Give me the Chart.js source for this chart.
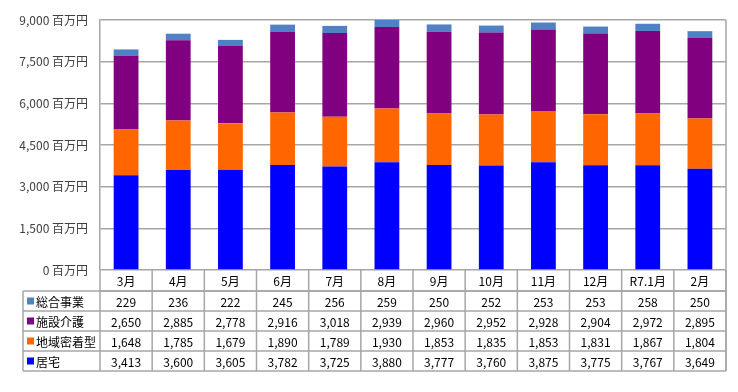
<!DOCTYPE html>
<html>
<head>
<meta charset="utf-8">
<script src="https://cdn.jsdelivr.net/npm/chart.js@4"></script>
<style>
  body { margin: 0; background: #fff; }
</style>
</head>
<body>
<canvas id="myChart" width="738" height="392"></canvas>
<script>
const months = ['3月','4月','5月','6月','7月','8月','9月','10月','11月','12月','R7.1月','2月'];
const sogo = [229, 236, 222, 245, 256, 259, 250, 252, 253, 253, 258, 250];
const shisetsu = [2650, 2885, 2778, 2916, 3018, 2939, 2960, 2952, 2928, 2904, 2972, 2895];
const chiiki = [1648, 1785, 1679, 1890, 1789, 1930, 1853, 1835, 1853, 1831, 1867, 1804];
const kyotaku = [3413, 3600, 3605, 3782, 3725, 3880, 3777, 3760, 3875, 3775, 3767, 3649];
const yTicks = [0, 1500, 3000, 4500, 6000, 7500, 9000];

const fontFam = "'Noto Sans CJK JP', 'Noto Sans', sans-serif";
const lineCol = '#a6a6a6';

// table rows, top to bottom
const tableRows = [
  {label: '総合事業', data: sogo, color: '#4f81c4'},
  {label: '施設介護', data: shisetsu, color: '#800080'},
  {label: '地域密着型', data: chiiki, color: '#ff6600'},
  {label: '居宅', data: kyotaku, color: '#0000ff'}
];

function fmt(v) {
  return v.toLocaleString('en-US');
}

const tablePlugin = {
  id: 'dataTable',
  afterDraw(chart) {
    const ctx = chart.ctx;
    const area = chart.chartArea;
    const x = chart.scales.x;
    const n = months.length;
    const colW = (area.right - area.left) / n;
    const top = area.bottom;
    const catH = 21;
    const rowH = 20;
    const tableLeft = 23;
    const bottom = top + catH + rowH * tableRows.length;
    ctx.save();
    ctx.strokeStyle = lineCol;
    ctx.lineWidth = 1.5;
    // right border of plot + table
    ctx.beginPath();
    ctx.moveTo(area.right, area.top);
    ctx.lineTo(area.right, bottom);
    ctx.stroke();
    // vertical lines of columns
    for (let i = 0; i <= n; i++) {
      let px = area.left + i * colW;
      ctx.beginPath();
      ctx.moveTo(px, top);
      ctx.lineTo(px, bottom);
      ctx.stroke();
    }
    // horizontal lines
    ctx.beginPath();
    ctx.moveTo(area.left, top + catH);
    ctx.lineTo(area.right, top + catH);
    ctx.stroke();
    for (let r = 0; r <= tableRows.length; r++) {
      let py = top + catH + r * rowH;
      ctx.beginPath();
      ctx.moveTo(tableLeft, py);
      ctx.lineTo(area.right, py);
      ctx.stroke();
    }
    ctx.beginPath();
    ctx.moveTo(tableLeft, top + catH);
    ctx.lineTo(tableLeft, bottom);
    ctx.stroke();

    ctx.fillStyle = '#000';
    ctx.font = '12px ' + fontFam;
    ctx.textAlign = 'center';
    ctx.textBaseline = 'middle';
    for (let i = 0; i < n; i++) {
      let cx = x.getPixelForValue(i);
      ctx.fillText(months[i], cx, top + catH / 2 + 1);
      tableRows.forEach((row, r) => {
        ctx.fillText(fmt(row.data[i]), cx, top + catH + r * rowH + rowH / 2 + 1);
      });
    }
    ctx.textAlign = 'left';
    tableRows.forEach((row, r) => {
      let cy = top + catH + r * rowH + rowH / 2;
      ctx.fillStyle = row.color;
      ctx.fillRect(tableLeft + 4, cy - 3.5, 7, 7);
      ctx.fillStyle = '#000';
      ctx.fillText(row.label, tableLeft + 13, cy + 1);
    });
    ctx.restore();
  }
};

const ctx = document.getElementById('myChart');
new Chart(ctx, {
  type: 'bar',
  data: {
    labels: months,
    datasets: [
      {label: '居宅', data: kyotaku, backgroundColor: '#0000ff'},
      {label: '地域密着型', data: chiiki, backgroundColor: '#ff6600'},
      {label: '施設介護', data: shisetsu, backgroundColor: '#800080'},
      {label: '総合事業', data: sogo, backgroundColor: '#4f81c4'}
    ]
  },
  options: {
    responsive: false,
    animation: false,
    layout: {
      padding: {left: 0, top: 20, right: 12, bottom: 122}
    },
    datasets: {
      bar: {
        barPercentage: 0.95,
        categoryPercentage: 0.5,
        borderWidth: 0
      }
    },
    plugins: {
      legend: {display: false},
      tooltip: {enabled: false}
    },
    scales: {
      x: {
        stacked: true,
        display: false
      },
      y: {
        stacked: true,
        min: 0,
        max: 9000,
        afterFit: function(scale) {
          scale.width = 100;
        },
        afterBuildTicks: function(scale) {
          scale.ticks = yTicks.map(v => ({value: v}));
        },
        border: {
          display: true,
          color: lineCol,
          width: 1.5
        },
        grid: {
          color: lineCol,
          lineWidth: 1.5,
          drawTicks: false
        },
        ticks: {
          padding: 12,
          color: '#404040',
          font: {family: fontFam, size: 12},
          callback: function(val) {
            return fmt(val) + ' 百万円';
          }
        }
      }
    }
  },
  plugins: [tablePlugin]
});
</script>
</body>
</html>
